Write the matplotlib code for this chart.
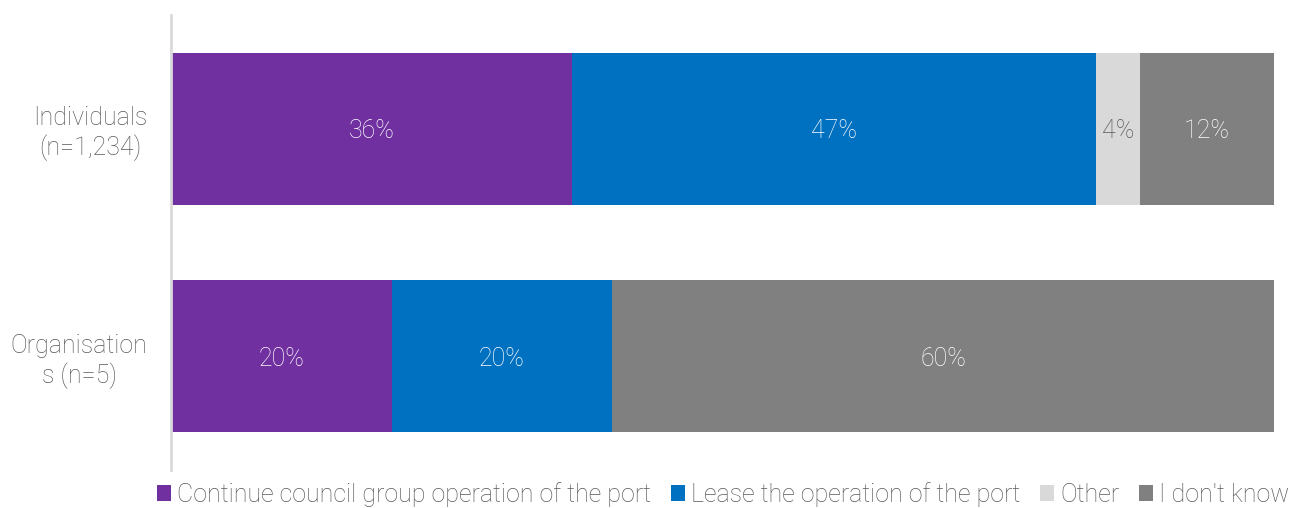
import matplotlib.pyplot as plt
import numpy as np

plt.rcParams['font.family'] = ['Roboto', 'DejaVu Sans']

# respondent groups and answer shares (%)
groups = ['Individuals\n(n=1,234)', 'Organisation\ns (n=5)']
options = ['Continue council group operation of the port',
           'Lease the operation of the port', 'Other', "I don't know"]
shares = [[36, 47, 4, 12],
          [20, 20, 0, 60]]
colors = ['#7030A0', '#0070C0', '#D9D9D9', '#808080']
label_colors = ['white', 'white', '#595959', 'white']

vals = np.array(shares, dtype=float)
# each row is scaled to fill the full bar
pct = vals / vals.sum(axis=1, keepdims=True) * 100

fig = plt.figure(figsize=(12.9, 5.08), dpi=100)
ax = fig.add_axes([0.1326, 0.0748, 0.855, 0.8957])

ypos = np.arange(len(groups))
left = np.zeros(len(groups))
for i, opt in enumerate(options):
    ax.barh(ypos, pct[:, i], left=left, height=0.67, color=colors[i],
            label=opt)
    for j in range(len(groups)):
        if vals[j, i] > 0:
            ax.text(left[j] + pct[j, i] / 2, ypos[j] + 0.01, '%d%%' % vals[j, i],
                    ha='center', va='center', fontsize=18, fontweight='light',
                    color=label_colors[i])
    left += pct[:, i]

ax.set_xlim(0, 100)
ax.set_ylim(1.5, -0.5)
ax.set_yticks(ypos)
ax.set_yticklabels(groups, fontsize=18, fontweight='light', color='#595959',
                   linespacing=1.2, multialignment='center')
ax.tick_params(axis='y', length=0, pad=17)
ax.set_xticks([])
for s in ['top', 'right', 'bottom']:
    ax.spines[s].set_visible(False)
ax.spines['left'].set_color('#D9D9D9')
ax.spines['left'].set_linewidth(2)

leg = fig.legend(loc='lower center', bbox_to_anchor=(0.5605, -0.042), ncol=4,
                 frameon=False, fontsize=18, handlelength=0.55,
                 handleheight=0.55, handletextpad=0.25, columnspacing=0.8)
for t in leg.get_texts():
    t.set_color('#595959')
    t.set_fontweight('light')

fig.savefig('out.png', dpi=100)
